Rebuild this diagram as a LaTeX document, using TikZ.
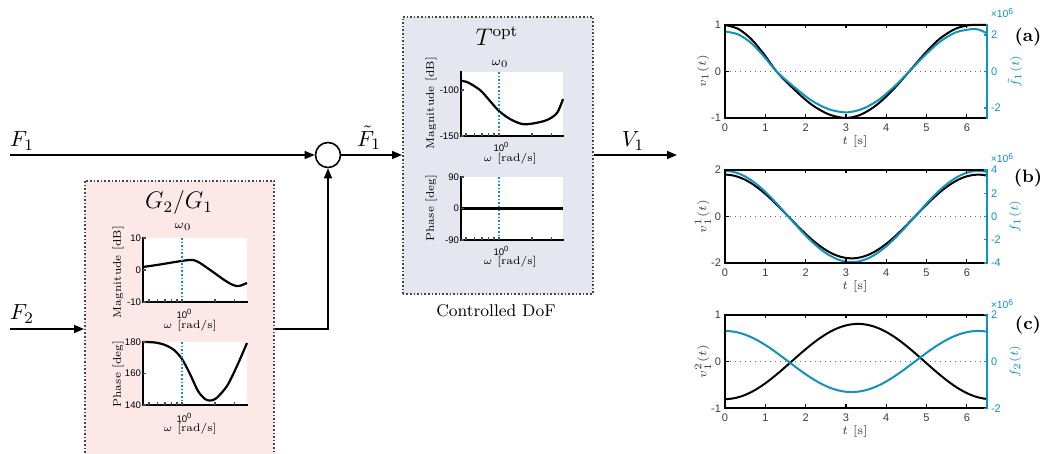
\documentclass[tikz,border=0pt]{standalone}
\usepackage{fontspec}
\newfontfamily\tickfont{Liberation Sans}
\usetikzlibrary{arrows.meta}
\definecolor{cy}{RGB}{16,146,188}
\definecolor{pinkbg}{RGB}{253,232,232}
\definecolor{lavbg}{RGB}{230,230,240}
\definecolor{boxline}{RGB}{70,70,70}
\definecolor{txtgray}{RGB}{60,60,60}
\tikzset{
  lab/.style={font=\fontsize{11}{13}\selectfont, inner sep=0pt},
  title/.style={font=\fontsize{11.5}{13}\selectfont, inner sep=0pt},
  arr/.style={line width=0.75pt, -{Triangle[length=5pt,width=4pt]}},
  dofbox/.style={draw=boxline, densely dotted, line width=0.8pt, inner sep=0pt, anchor=north west},
  btick/.style={font={\tickfont\fontsize{4.8}{5.5}\selectfont}, inner sep=0.8pt},
  blab/.style={font=\fontsize{5.5}{6}\selectfont, inner sep=0pt},
  baxis/.style={line width=1.1pt, line cap=rect},
  mtick/.style={line width=0.6pt, black!70},
  bcurve/.style={line width=1.1pt},
  wline/.style={cy, densely dotted, line width=0.8pt},
  raxis/.style={line width=1pt, line cap=rect},
  rtickmark/.style={line width=0.6pt},
  rtick/.style={font={\tickfont\fontsize{5.5}{6.5}\selectfont}, inner sep=0.8pt, text=txtgray},
  xsix/.style={font={\tickfont\fontsize{5.2}{6}\selectfont}, inner sep=0pt, text=cy},
  rlab/.style={font=\fontsize{6}{7}\selectfont, inner sep=0pt, text=txtgray},
  curve/.style={line width=1pt},
  plabel/.style={font=\fontsize{9}{10}\selectfont\bfseries, inner sep=0pt},
  zline/.style={black!60, dotted, line width=0.5pt}
}
\newcommand\rframe[1]{%
  \begin{scope}[shift={(725,#1)}]
    \draw[raxis] (262,-46.5) -- (0,-46.5) -- (0,46.5) -- (262,46.5);
    \draw[raxis,draw=cy] (262,-46.5) -- (262,46.5);
    \foreach \t in {0,...,6}{
      \draw[rtickmark] ({40.31*\t},-46.5) -- ++(0,3.5);
      \draw[rtickmark] ({40.31*\t},46.5) -- ++(0,-3.5);
      \node[rtick] at ({40.31*\t},56.5) {\t};}
    \node[rlab] at (130,70.5) {$t$ [s]};
  \end{scope}}
\newcommand\logticks[2]{%
  \foreach \dx in {-33,-24.4,-17,-10.7,-5,0,33,52.5}{\draw[mtick] ({#1+\dx},#2) -- ++(0,-3);}}
\newcommand\tenzero{10\raisebox{0.75ex}{\fontsize{3.8}{4}\selectfont 0}}
\newcommand\timessix{×10\raisebox{0.7ex}{\fontsize{4.3}{5}\selectfont 6}}
\begin{document}
\begin{tikzpicture}[x=0.5pt,y=-0.5pt]
\useasboundingbox (0,0) rectangle (1046,454);
\clip (0,0) rectangle (1046,454);

% ---------------- boxes ----------------
\node[dofbox, fill=pinkbg, minimum width=94.5pt, minimum height=142pt] (gbox) at (84,180) {};
\node[dofbox, fill=lavbg, minimum width=95pt, minimum height=138.5pt] (tbox) at (402,16) {};
\node[title] (gtitle) at (179,203) {$G_2/G_1$};
\node[title] (ttitle) at (497,36) {$T^{\mathrm{opt}}$};
\node[font=\fontsize{8.5}{10}\selectfont, inner sep=0pt] (cdof) at (496,311) {Controlled DoF};

% ---------------- sum and connectors ----------------
\node[circle, draw, line width=0.8pt, minimum size=12.5pt, inner sep=0pt] (sum) at (328,155) {};
\coordinate (f1) at (10,155);
\coordinate (f2) at (10,329);
\coordinate (vout) at (677,155);
\coordinate (gk) at (328,329);
\draw[arr] (f1) -- (sum.west);
\draw[arr] (sum.east) -- (sum.east -| tbox.west);
\draw[arr] (vout -| tbox.east) -- (vout);
\draw[arr] (f2) -- (f2 -| gbox.west);
\draw[arr] (f2 -| gbox.east) -- (gk) -- (sum.south);
\node[lab] (lf1) at (22,141) {$F_1$};
\node[lab] (lf2) at (22,314) {$F_2$};
\node[lab] (lft) at (369,138) {$\tilde F_1$};
\node[lab] (lv1) at (633,141) {$V_1$};

% ---------------- G2/G1 Bode ----------------
\node[font=\fontsize{6.5}{7}\selectfont, inner sep=0pt] (gw0) at (183,227) {$\omega_0$};
\fill[white] (143,238) rectangle (247,302);
\draw[bcurve] plot[smooth] coordinates {(143,267) (160,264.5) (175,262) (185,260.5) (193,260) (200,263) (213,272) (225,280.5) (233,285) (239,286) (247,283)};
\draw[wline] (182,238) -- (182,302);
\draw[baxis] (143,238) -- (143,302) -- (247,302);
\logticks{182}{302}
\foreach \yy/\l in {238/10,270/0,302/-10}{\node[btick, anchor=east] at (143,\yy) {\l}; \draw[mtick] (143,\yy) -- ++(3,0);}
\node[btick] at (184,314) {\tenzero};
\node[blab] at (190,326) {$\omega$ [rad/s]};
\node[blab, rotate=90] at (118,272) {Magnitude [dB]};

\fill[white] (143,342) rectangle (247,405);
\draw[bcurve] plot[smooth] coordinates {(143,342) (155,342.5) (165,345) (174,350) (182,359) (190,374) (198,391) (205,399) (210,400.5) (216,398.5) (227,386) (237,366) (247,343)};
\draw[wline] (182,342) -- (182,405);
\draw[baxis] (143,342) -- (143,405) -- (247,405);
\logticks{182}{405}
\foreach \yy/\l in {342/180,373.5/160,405/140}{\node[btick, anchor=east] at (143,\yy) {\l}; \draw[mtick] (143,\yy) -- ++(3,0);}
\node[btick] at (184,418) {\tenzero};
\node[blab] at (190,429) {$\omega$ [rad/s]};
\node[blab, rotate=90] at (118,374) {Phase [deg]};

% ---------------- T opt Bode ----------------
\node[font=\fontsize{6.5}{7}\selectfont, inner sep=0pt] (tw0) at (500,64) {$\omega_0$};
\fill[white] (461,72) rectangle (563,136);
\draw[bcurve] plot[smooth] coordinates {(461,81) (467,82) (480,90) (490,101) (499,111) (510,119) (522,124) (533,123.5) (547,120) (557,113) (563,99)};
\draw[wline] (499,72) -- (499,136);
\draw[baxis] (461,72) -- (461,136) -- (563,136);
\logticks{499}{136}
\foreach \yy/\l in {90/-100,136/-150}{\node[btick, anchor=east] at (461,\yy) {\l}; \draw[mtick] (461,\yy) -- ++(3,0);}
\node[btick] at (501,147) {\tenzero};
\node[blab] at (510,159) {$\omega$ [rad/s]};
\node[blab, rotate=90] at (431,103) {Magnitude [dB]};

\fill[white] (461,177) rectangle (563,240);
\draw[wline] (499,177) -- (499,240);
\draw[bcurve] (461,208.5) -- (563,208.5);
\draw[baxis] (461,177) -- (461,240) -- (563,240);
\logticks{499}{240}
\foreach \yy/\l in {177/90,208.5/0,240/-90}{\node[btick, anchor=east] at (461,\yy) {\l}; \draw[mtick] (461,\yy) -- ++(3,0);}
\node[btick] at (501,251) {\tenzero};
\node[blab] at (510,262) {$\omega$ [rad/s]};
\node[blab, rotate=90] at (431,208) {Phase [deg]};

% ---------------- time plot (a) ----------------
\begin{scope}[shift={(725,71.5)}, xscale=40.31, yscale=-46.5]
  \draw[zline] (0,0) -- (6.5,0);
  \draw[curve] plot[smooth] coordinates {(0,1) (0.32,0.92) (0.64,0.707) (0.96,0.38) (1.28,0) (1.71,-0.38) (2.14,-0.707) (2.57,-0.92) (3,-1) (3.39,-0.92) (3.78,-0.707) (4.18,-0.38) (4.57,0) (4.95,0.38) (5.33,0.707) (5.72,0.92) (6.1,1) (6.5,1)};
  \draw[curve, cy] plot[smooth] coordinates {(0,0.86) (0.32,0.80) (0.64,0.62) (0.96,0.33) (1.28,0) (1.71,-0.33) (2.14,-0.62) (2.57,-0.81) (3,-0.88) (3.39,-0.81) (3.78,-0.63) (4.18,-0.34) (4.57,0) (4.95,0.34) (5.33,0.64) (5.72,0.84) (6.1,0.91) (6.3,0.9) (6.5,0.82)};
\end{scope}
\rframe{71.5}
\foreach \v in {-1,0,1}{\node[rtick, anchor=east] at (723,{71.5-46.5*\v}) {\v}; \draw[rtickmark] (725,{71.5-46.5*\v}) -- ++(3.5,0);}
\foreach \v in {-2,0,2}{\node[rtick, anchor=west, text=cy] at (989,{71.5-18.24*\v}) {\v}; \draw[rtickmark, cy] (987,{71.5-18.24*\v}) -- ++(-3.5,0);}
\node[rlab, rotate=90] (ya) at (703,71.5) {$v_1(t)$};
\node[rlab, rotate=90, text=cy] (yra) at (1015,71.5) {$\tilde f_1(t)$};
\node[xsix] (xa) at (1002,13) {\timessix};
\node[plabel] (pa) at (1028,37) {(a)};

% ---------------- time plot (b) ----------------
\begin{scope}[shift={(725,216.5)}, xscale=40.31, yscale=-23.25]
  \draw[zline] (0,0) -- (6.5,0);
  \draw[curve] plot[domain=0:6.5, samples=80, smooth] (\x, {1.8*cos(\x r)});
  \draw[curve, cy] plot[domain=0:6.5, samples=80, smooth] (\x, {1.96*cos(\x r)});
\end{scope}
\rframe{216.5}
\foreach \v in {-2,0,2}{\node[rtick, anchor=east] at (723,{216.5-23.25*\v}) {\v}; \draw[rtickmark] (725,{216.5-23.25*\v}) -- ++(3.5,0);}
\foreach \v in {-4,-2,0,2,4}{\node[rtick, anchor=west, text=cy] at (989,{216.5-11.625*\v}) {\v}; \draw[rtickmark, cy] (987,{216.5-11.625*\v}) -- ++(-3.5,0);}
\node[rlab, rotate=90] (yb) at (703,216.5) {$v_1^1(t)$};
\node[rlab, rotate=90, text=cy] (yrb) at (1015,216.5) {$f_1(t)$};
\node[xsix] (xb) at (1002,158) {\timessix};
\node[plabel] (pb) at (1028,178) {(b)};

% ---------------- time plot (c) ----------------
\begin{scope}[shift={(725,361.5)}, xscale=40.31, yscale=-47]
  \draw[zline] (0,0) -- (6.5,0);
  \draw[curve] plot[domain=0:6.5, samples=80, smooth] (\x, {-0.8*cos(\x*360/6.6)});
  \draw[curve, cy] plot[domain=0:6.5, samples=80, smooth] (\x, {0.65*cos(\x r)});
\end{scope}
\rframe{361.5}
\foreach \v in {-1,0,1}{\node[rtick, anchor=east] at (723,{361.5-47*\v}) {\v}; \draw[rtickmark] (725,{361.5-47*\v}) -- ++(3.5,0);}
\foreach \v in {-2,0,2}{\node[rtick, anchor=west, text=cy] at (989,{361.5-23.5*\v}) {\v}; \draw[rtickmark, cy] (987,{361.5-23.5*\v}) -- ++(-3.5,0);}
\node[rlab, rotate=90] (yc) at (703,361.5) {$v_1^2(t)$};
\node[rlab, rotate=90, text=cy] (yrc) at (1015,361.5) {$f_2(t)$};
\node[xsix] (xc) at (1002,304) {\timessix};
\node[plabel] (pc) at (1028,325) {(c)};
\end{tikzpicture}
\end{document}
